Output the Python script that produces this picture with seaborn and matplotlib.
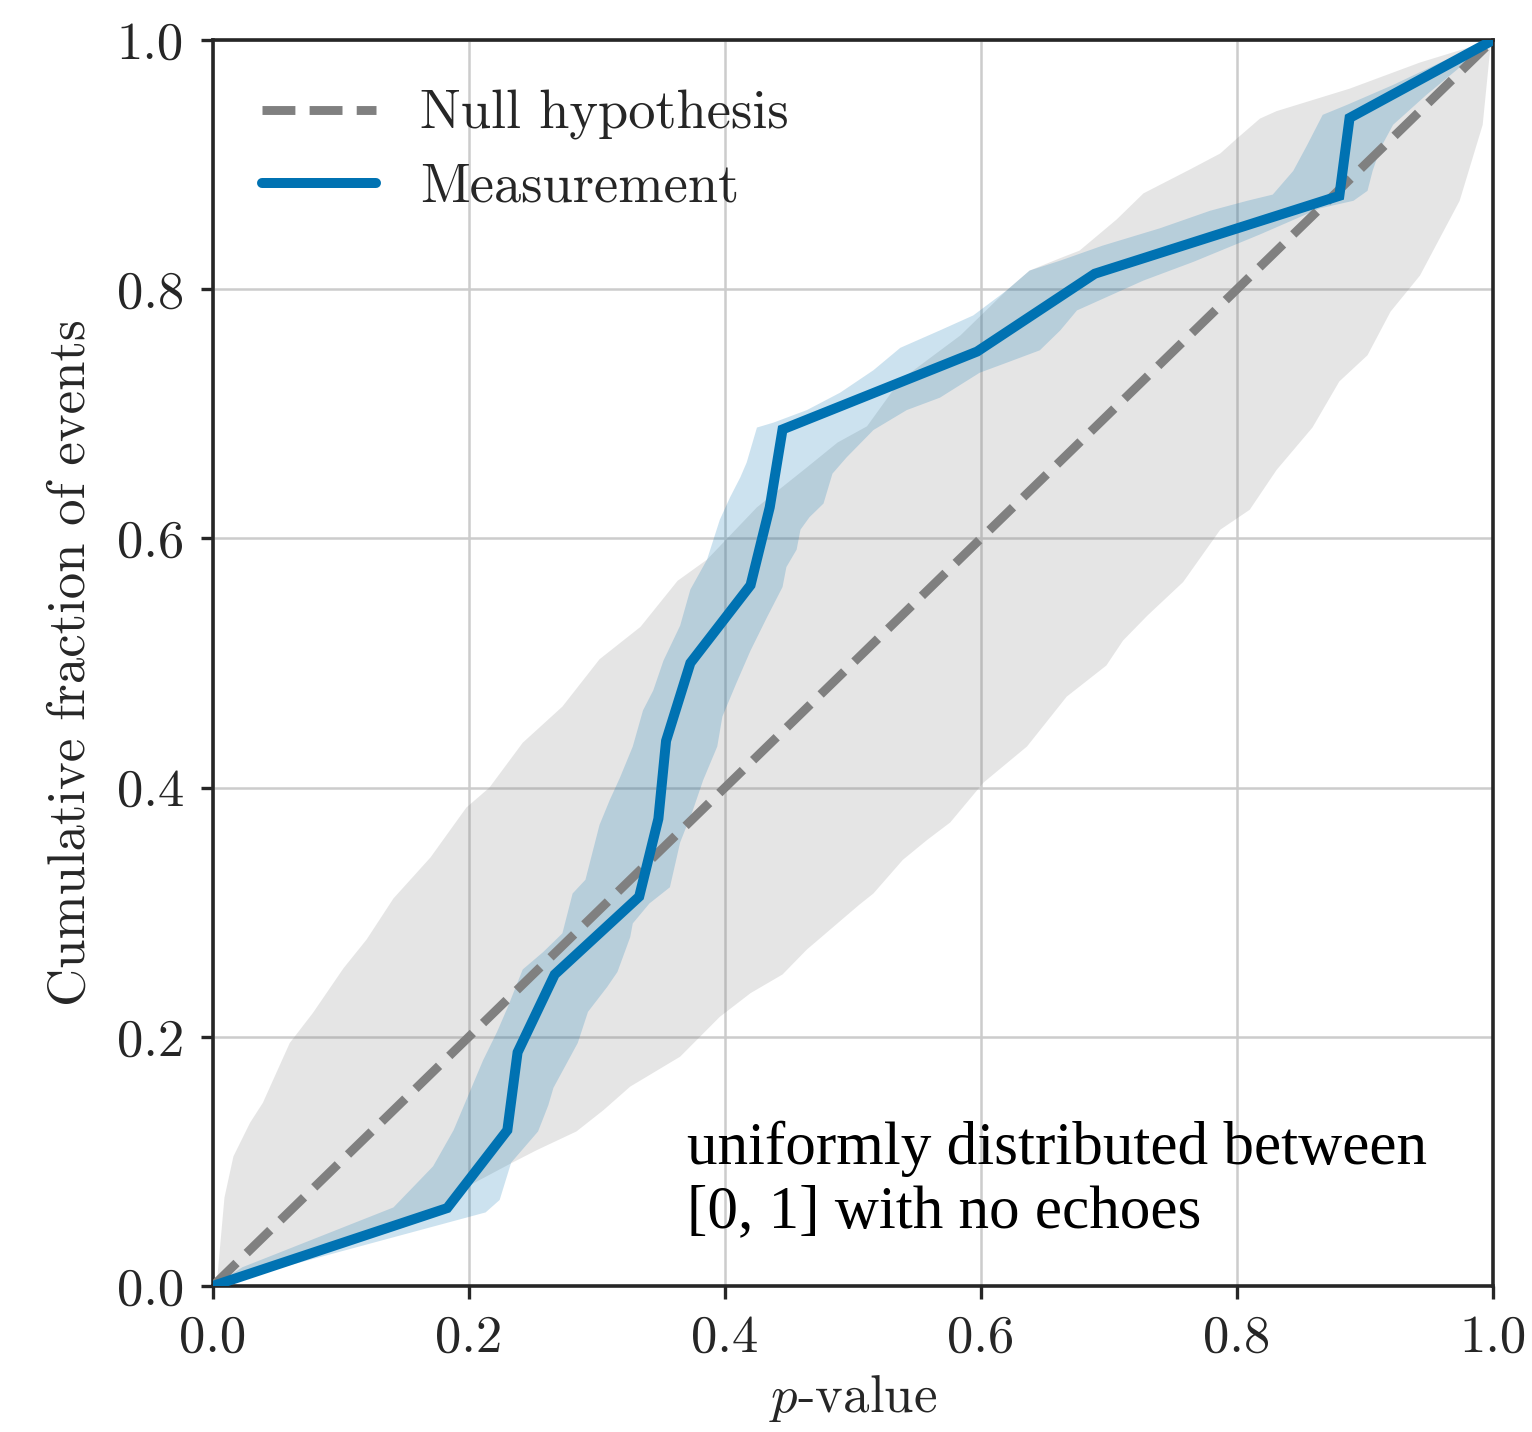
import numpy as np
import matplotlib
matplotlib.use("Agg")
import matplotlib.pyplot as plt
import seaborn as sns

# ---- data ----
meas_p = [0.0, 0.183, 0.230, 0.238, 0.267, 0.333, 0.348, 0.354, 0.373,
          0.420, 0.435, 0.445, 0.597, 0.689, 0.880, 0.888, 1.0]
meas_frac = [k / 16 for k in range(17)]

null_p = [0.0, 1.0]
null_frac = [0.0, 1.0]

# measurement uncertainty band: left (upper) and right (lower) edges
meas_up_p = [0.0, 0.023, 0.141, 0.172, 0.188, 0.211, 0.222, 0.230, 0.242, 0.258,
             0.273, 0.281, 0.291, 0.302, 0.310, 0.318, 0.328, 0.336, 0.344, 0.352,
             0.365, 0.373, 0.386, 0.396, 0.404, 0.412, 0.417, 0.425, 0.438, 0.464,
             0.490, 0.516, 0.537, 0.568, 0.594, 0.620, 0.638, 0.662, 0.695, 0.740,
             0.779, 0.808, 0.828, 0.844, 0.855, 0.867, 0.886, 0.922, 0.961, 1.0]
meas_up_f = [0.0, 0.015, 0.063, 0.096, 0.125, 0.181, 0.204, 0.223, 0.254, 0.268,
             0.283, 0.315, 0.326, 0.370, 0.390, 0.408, 0.433, 0.462, 0.478, 0.502,
             0.530, 0.559, 0.583, 0.615, 0.633, 0.649, 0.661, 0.689, 0.693, 0.703,
             0.717, 0.735, 0.753, 0.767, 0.779, 0.799, 0.815, 0.823, 0.835, 0.849,
             0.863, 0.871, 0.876, 0.895, 0.916, 0.940, 0.948, 0.964, 0.983, 1.0]
meas_lo_p = [0.0, 0.011, 0.094, 0.213, 0.224, 0.233, 0.254, 0.262, 0.266, 0.285,
             0.293, 0.308, 0.316, 0.326, 0.328, 0.341, 0.357, 0.365, 0.375, 0.383,
             0.394, 0.398, 0.409, 0.420, 0.433, 0.445, 0.448, 0.456, 0.459, 0.466,
             0.477, 0.484, 0.495, 0.516, 0.542, 0.568, 0.599, 0.620, 0.646, 0.662,
             0.675, 0.701, 0.727, 0.766, 0.818, 0.865, 0.891, 0.902, 0.906, 0.912,
             0.922, 0.948, 0.974, 1.0]
meas_lo_f = [0.0, 0.003, 0.026, 0.059, 0.069, 0.099, 0.124, 0.145, 0.159, 0.195,
             0.220, 0.240, 0.252, 0.280, 0.291, 0.307, 0.320, 0.356, 0.382, 0.406,
             0.433, 0.457, 0.484, 0.510, 0.537, 0.561, 0.577, 0.591, 0.607, 0.617,
             0.628, 0.652, 0.665, 0.687, 0.703, 0.713, 0.733, 0.741, 0.751, 0.767,
             0.783, 0.795, 0.807, 0.822, 0.844, 0.865, 0.871, 0.879, 0.895, 0.913,
             0.932, 0.956, 0.978, 1.0]

# null-hypothesis band: left (upper) and right (lower) edges
null_up_p = [0.0, 0.003, 0.009, 0.016, 0.029, 0.039, 0.060, 0.078, 0.102, 0.120,
             0.141, 0.170, 0.198, 0.216, 0.242, 0.273, 0.302, 0.334, 0.363, 0.386,
             0.425, 0.464, 0.488, 0.511, 0.537, 0.584, 0.620, 0.638, 0.662, 0.677,
             0.706, 0.727, 0.763, 0.787, 0.800, 0.818, 0.831, 0.888, 0.943, 1.0]
null_up_f = [0.0, 0.002, 0.071, 0.104, 0.131, 0.147, 0.195, 0.219, 0.255, 0.278,
             0.311, 0.344, 0.384, 0.400, 0.436, 0.465, 0.503, 0.529, 0.566, 0.583,
             0.625, 0.657, 0.677, 0.690, 0.727, 0.763, 0.799, 0.815, 0.825, 0.831,
             0.856, 0.877, 0.896, 0.909, 0.921, 0.937, 0.943, 0.961, 0.982, 1.0]
null_lo_p = [0.0, 0.068, 0.146, 0.183, 0.201, 0.234, 0.253, 0.284, 0.305, 0.326,
             0.365, 0.396, 0.420, 0.445, 0.464, 0.505, 0.516, 0.539, 0.558, 0.576,
             0.602, 0.636, 0.667, 0.698, 0.711, 0.730, 0.758, 0.787, 0.810, 0.831,
             0.859, 0.880, 0.902, 0.920, 0.943, 0.974, 0.992, 0.998, 1.0]
null_lo_f = [0.0, 0.023, 0.050, 0.067, 0.081, 0.099, 0.109, 0.124, 0.141, 0.160,
             0.184, 0.216, 0.235, 0.250, 0.270, 0.306, 0.315, 0.342, 0.358, 0.372,
             0.404, 0.433, 0.473, 0.498, 0.518, 0.538, 0.565, 0.607, 0.623, 0.655,
             0.689, 0.726, 0.747, 0.782, 0.811, 0.871, 0.932, 0.994, 1.0]

ticks = [0.0, 0.2, 0.4, 0.6, 0.8, 1.0]
tick_labels = ["0.0", "0.2", "0.4", "0.6", "0.8", "1.0"]

# ---- style ----
sns.set_theme(style="whitegrid")
plt.rcParams.update({
    "font.family": "serif",
    "font.serif": ["cmr10"],
    "mathtext.fontset": "cm",
    "axes.formatter.use_mathtext": True,
    "axes.unicode_minus": False,
    "axes.edgecolor": "0.15",
    "axes.linewidth": 1.3,
    "grid.color": "0.8",
    "grid.linewidth": 0.9,
    "xtick.bottom": True,
    "ytick.left": True,
    "xtick.major.size": 4.5,
    "ytick.major.size": 4.5,
    "xtick.major.width": 1.2,
    "ytick.major.width": 1.2,
    "xtick.color": "0.15",
    "ytick.color": "0.15",
    "axes.labelcolor": "0.15",
})

fig = plt.figure(figsize=(7.66, 7.16), dpi=200)
ax = fig.add_axes([0.139, 0.102, 0.8355, 0.870])

blue = "#0072B2"

ax.fill(np.concatenate([null_up_p, null_lo_p[::-1]]),
        np.concatenate([null_up_f, null_lo_f[::-1]]),
        color="gray", alpha=0.2, lw=0, zorder=1)
ax.fill(np.concatenate([meas_up_p, meas_lo_p[::-1]]),
        np.concatenate([meas_up_f, meas_lo_f[::-1]]),
        color=blue, alpha=0.2, lw=0, zorder=2)

sns.lineplot(x=null_p, y=null_frac, ax=ax, color="gray", lw=3.2,
             linestyle="--", label="Null hypothesis", zorder=3, sort=False)
sns.lineplot(x=meas_p, y=meas_frac, ax=ax, color=blue, lw=3.6,
             label="Measurement", zorder=4, sort=False,
             solid_capstyle="round", solid_joinstyle="miter")

ax.set_xlim(0, 1)
ax.set_ylim(0, 1)
ax.set_xticks(ticks)
ax.set_xticklabels(tick_labels)
ax.set_yticks(ticks)
ax.set_yticklabels(tick_labels)
ax.tick_params(labelsize=19, pad=6)
ax.set_xlabel(r"$p$-value", fontsize=19, labelpad=4)
ax.set_ylabel("Cumulative fraction of events", fontsize=19, labelpad=8)
for s in ax.spines.values():
    s.set_visible(True)
    s.set_color("0.15")
    s.set_linewidth(1.3)

leg = ax.legend(loc="upper left", frameon=False, fontsize=19.6,
                handlelength=2.1, labelspacing=0.42,
                bbox_to_anchor=(0.0, 0.999))
for t in leg.get_texts():
    t.set_color("0.15")

ax.text(0.37, 0.037, "uniformly distributed between\n[0, 1] with no echoes",
        transform=ax.transAxes, fontsize=22, family="Liberation Serif",
        color="black", ha="left", va="bottom", linespacing=1.17, zorder=5)

fig.savefig("out.png", dpi=200)
